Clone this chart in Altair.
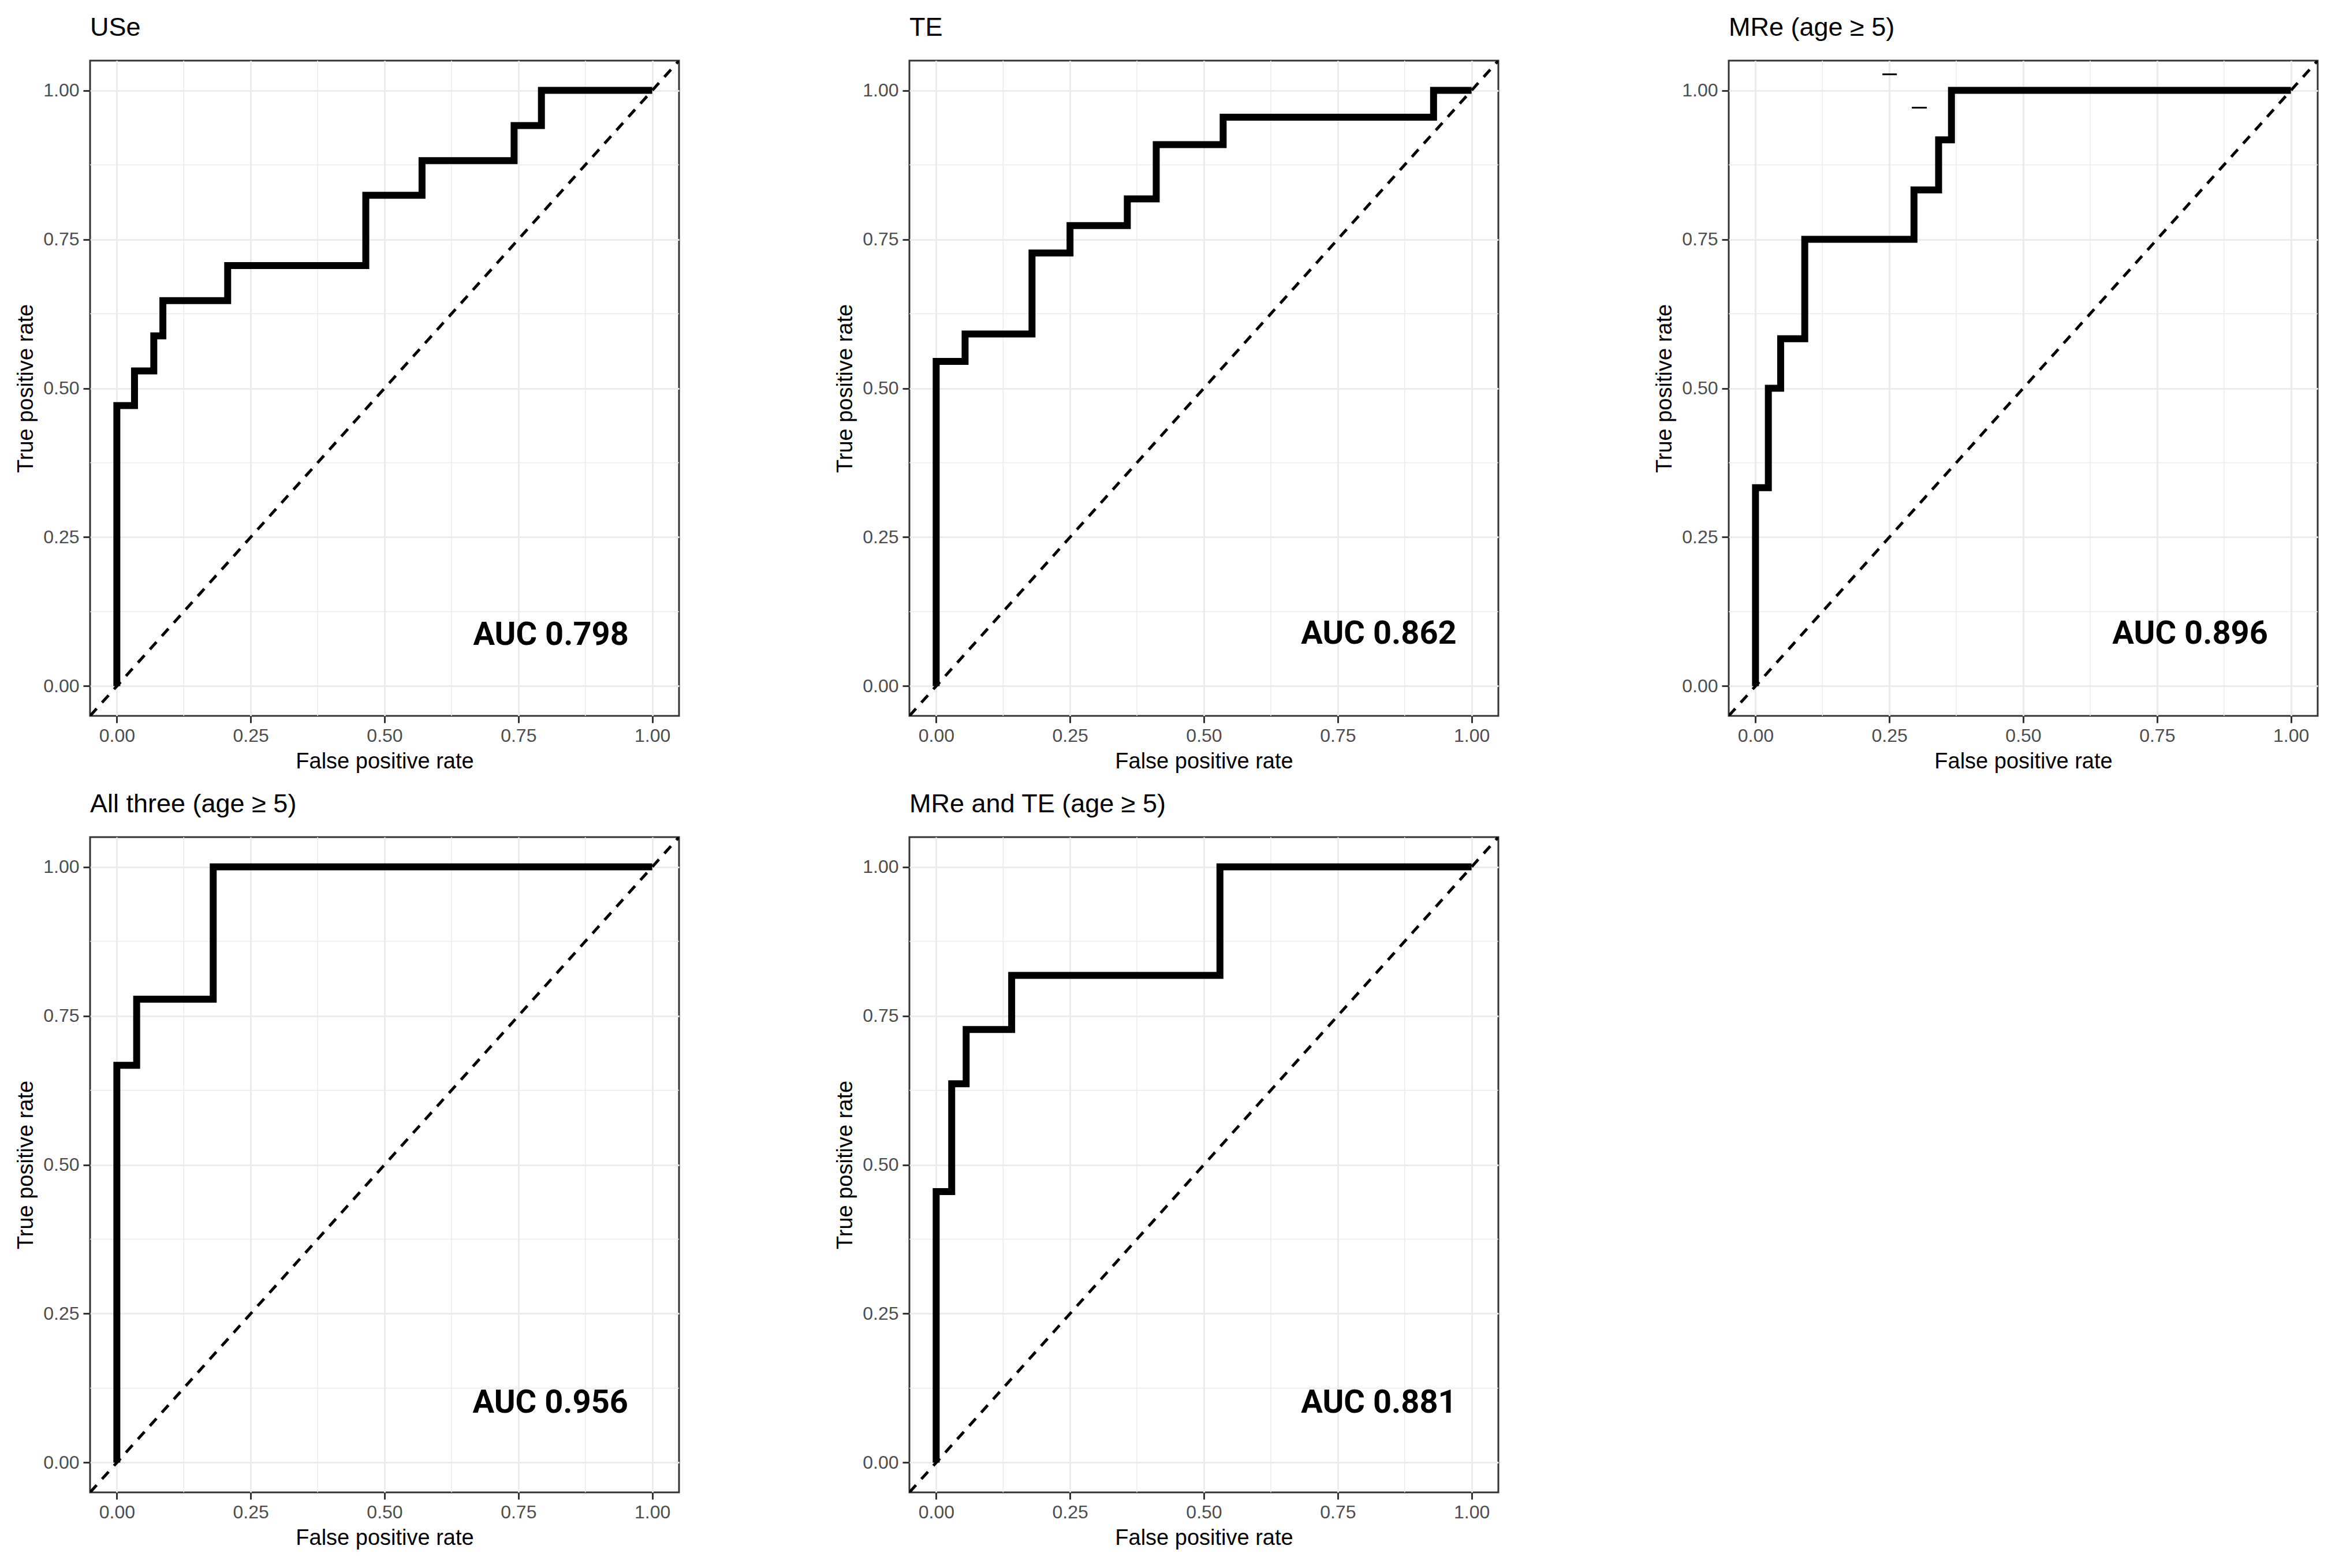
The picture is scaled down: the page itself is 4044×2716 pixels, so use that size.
import altair as alt
import pandas as pd

# ---- data ----
titles = ["USe", "TE", "MRe (age \u2265 5)", "All three (age \u2265 5)", "MRe and TE (age \u2265 5)"]
auc_labels = ["AUC 0.798", "AUC 0.862", "AUC 0.896", "AUC 0.956", "AUC 0.881"]
auc_x = [0.956, 0.972, 0.957, 0.955, 0.972]
auc_y = [0.069, 0.071, 0.071, 0.084, 0.084]

use_fpr = [0, 0, 0.033, 0.069, 0.086, 0.207, 0.465, 0.570, 0.742, 0.793, 1.0]
use_tpr = [0, 0.471, 0.529, 0.588, 0.647, 0.706, 0.824, 0.882, 0.941, 1.0, 1.0]

te_fpr = [0, 0, 0.054, 0.179, 0.250, 0.357, 0.411, 0.536, 0.929, 1.0]
te_tpr = [0, 0.545, 0.591, 0.727, 0.773, 0.818, 0.909, 0.955, 1.0, 1.0]

mre_fpr = [0, 0, 0.024, 0.047, 0.092, 0.296, 0.342, 0.366, 1.0]
mre_tpr = [0, 0.333, 0.500, 0.583, 0.750, 0.833, 0.917, 1.0, 1.0]

all_fpr = [0, 0, 0.037, 0.180, 1.0]
all_tpr = [0, 0.667, 0.778, 1.0, 1.0]

mte_fpr = [0, 0, 0.029, 0.056, 0.141, 0.530, 1.0]
mte_tpr = [0, 0.455, 0.636, 0.727, 0.818, 1.0, 1.0]

# small stray dashes visible in the MRe panel
stray_x = [0.237, 0.292]
stray_x2 = [0.264, 0.320]
stray_y = [1.027, 0.971]

major_ticks = [0, 0.25, 0.5, 0.75, 1.0]
minor_ticks = [0.125, 0.375, 0.625, 0.875]
diag_vals = [-0.05, 1.05]
domain = [-0.05, 1.05]

curves = [(use_fpr, use_tpr), (te_fpr, te_tpr), (mre_fpr, mre_tpr),
          (all_fpr, all_tpr), (mte_fpr, mte_tpr)]

FONT = "Liberation Sans, Arial, sans-serif"
W, H = 1020, 1135


def panel(i):
    fpr, tpr = curves[i]
    xs = alt.Scale(domain=domain, nice=False, zero=False)
    ys = alt.Scale(domain=domain, nice=False, zero=False)
    xaxis = alt.Axis(values=major_ticks, format=".2f", title="False positive rate")
    yaxis = alt.Axis(values=major_ticks, format=".2f", title="True positive rate")

    minor_df = pd.DataFrame({"v": minor_ticks})
    minor_x = alt.Chart(minor_df).mark_rule(color="#ebebeb", strokeWidth=1.5).encode(
        x=alt.X("v:Q", scale=xs, axis=xaxis))
    minor_y = alt.Chart(minor_df).mark_rule(color="#ebebeb", strokeWidth=1.5).encode(
        y=alt.Y("v:Q", scale=ys, axis=yaxis))

    diag = alt.Chart(pd.DataFrame({"d": diag_vals})).mark_line(
        color="black", strokeWidth=5, strokeDash=[17, 14], clip=True).encode(
        x=alt.X("d:Q", scale=xs, axis=xaxis), y=alt.Y("d:Q", scale=ys, axis=yaxis))

    curve = alt.Chart(pd.DataFrame({"fpr": fpr, "tpr": tpr})).mark_line(
        interpolate="step-after", color="black", strokeWidth=12, clip=True).encode(
        x=alt.X("fpr:Q", scale=xs, axis=xaxis), y=alt.Y("tpr:Q", scale=ys, axis=yaxis))

    text = alt.Chart(pd.DataFrame({"x": [auc_x[i]], "y": [auc_y[i]], "t": [auc_labels[i]]})).mark_text(
        align="right", baseline="alphabetic", fontSize=56, fontWeight="bold",
        font="Roboto, Open Sans, sans-serif", color="black").encode(
        x=alt.X("x:Q", scale=xs, axis=xaxis), y=alt.Y("y:Q", scale=ys, axis=yaxis), text="t:N")

    layers = [minor_x, minor_y, diag, curve, text]
    if i == 2:
        stray = alt.Chart(pd.DataFrame({"x": stray_x, "x2": stray_x2, "y": stray_y})).mark_rule(
            color="black", strokeWidth=3).encode(
            x=alt.X("x:Q", scale=xs, axis=xaxis), x2="x2:Q", y=alt.Y("y:Q", scale=ys, axis=yaxis))
        layers.append(stray)

    return alt.layer(*layers).properties(
        width=W, height=H,
        title=alt.TitleParams(titles[i], anchor="start", frame="group", baseline="alphabetic",
                              offset=-3, fontSize=45, font=FONT, fontWeight="normal", color="black"))


chart = alt.concat(
    *[panel(i) for i in range(5)],
    columns=3,
    spacing=alt.RowColnumber(row=210, column=399),
    bounds="flush",
).properties(
    padding={"left": 17, "top": 16, "right": 5, "bottom": 5},
    background="white",
).configure_view(
    stroke="#333333", strokeWidth=3
).configure_axis(
    labelFont=FONT, labelFontSize=32, labelColor="#4d4d4d", labelPadding=7,
    titleFont=FONT, titleFontSize=38, titleFontWeight="normal", titleColor="black", titlePadding=10,
    tickSize=12, tickWidth=3, tickColor="#333333", domain=False,
    grid=True, gridColor="#ebebeb", gridWidth=3,
)

chart.save("out.html", embed_options={"renderer": "svg", "actions": False})
